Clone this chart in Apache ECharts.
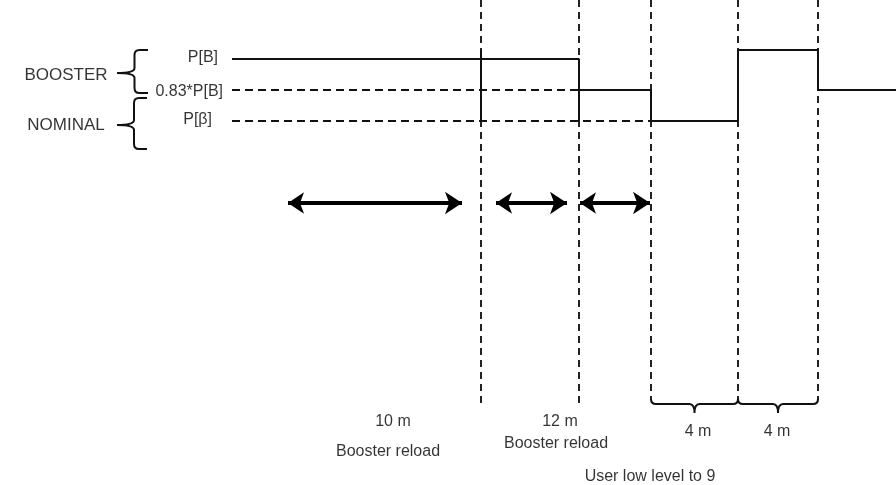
<!DOCTYPE html>
<html>
<head>
<meta charset="utf-8">
<script src="https://cdn.jsdelivr.net/npm/echarts@6/dist/echarts.min.js"></script>
<style>
  html, body { margin: 0; padding: 0; background: #fff; }
  #main { width: 896px; height: 485px; }
</style>
</head>
<body>
<div id="main"></div>
<script>
// diagram units: x = time position, y = level position (top down)
var stepLine = [[232, 59], [579, 59], [579, 90], [651, 90], [651, 121], [738, 121], [738, 50], [818, 50], [818, 90], [896, 90]];
var solidDrops = [[[481, 50], [481, 121]], [[579, 59], [579, 121]]];
var refLines = [[[232, 90], [579, 90]], [[232, 121], [651, 121]]];
var markerX = [481, 579, 651, 738, 818];
var markerEnd = [405, 405, 400, 400, 400];
var arrowSpans = [[288, 462], [496, 567], [580, 650]];
var arrowY = 203;
// [end x, top, bottom, tip x, tip y]
var leftBraces = [[148, 50, 93, 117, 73], [147, 98, 149, 117, 125]];
// [x0, x1, end y, tip y]
var bottomBraces = [[651, 738, 399, 413], [738, 818, 399, 413]];
// [text, x, y, align, size]
var textLabels = [
  ['BOOSTER', 66, 75, 'center', 17],
  ['NOMINAL', 66, 125, 'center', 17],
  ['P[B]', 218, 58, 'right', 16],
  ['0.83*P[B]', 223, 92, 'right', 16],
  ['P[β]', 212, 120, 'right', 16],
  ['10 m', 393, 422, 'center', 16],
  ['Booster reload', 388, 452, 'center', 16],
  ['12 m', 560, 422, 'center', 16],
  ['Booster reload', 556, 444, 'center', 16],
  ['4 m', 698, 432, 'center', 16],
  ['4 m', 777, 432, 'center', 16],
  ['User low level to 9', 650, 477, 'center', 16]
];

var myChart = echarts.init(document.getElementById('main'));

var markerLines = markerX.map(function (x, i) {
  return { coords: [[x, 0], [x, markerEnd[i]]] };
});
var arrowLines = arrowSpans.map(function (s) {
  return { coords: [[s[0], arrowY], [s[1], arrowY]] };
});

function renderLeftBrace(params, api) {
  var endX = api.value(0), top = api.value(1), bot = api.value(2), tipX = api.value(3), tipY = api.value(4);
  var a = api.coord([endX, top]), b = api.coord([endX, bot]), t = api.coord([tipX, tipY]);
  var stem = api.coord([(endX + tipX) / 2 + 2, 0])[0];
  var r = 5;
  var d = 'M' + a[0] + ' ' + a[1] +
    ' L' + (stem + r) + ' ' + a[1] +
    ' Q' + stem + ' ' + a[1] + ' ' + stem + ' ' + (a[1] + r) +
    ' L' + stem + ' ' + (t[1] - r) +
    ' Q' + stem + ' ' + t[1] + ' ' + t[0] + ' ' + t[1] +
    ' M' + t[0] + ' ' + t[1] +
    ' Q' + stem + ' ' + t[1] + ' ' + stem + ' ' + (t[1] + r) +
    ' L' + stem + ' ' + (b[1] - r) +
    ' Q' + stem + ' ' + b[1] + ' ' + (stem + r) + ' ' + b[1] +
    ' L' + b[0] + ' ' + b[1];
  return {
    type: 'path',
    shape: { pathData: d },
    style: { fill: null, stroke: '#111', lineWidth: 2 }
  };
}

function renderBottomBrace(params, api) {
  var x0 = api.value(0), x1 = api.value(1), endY = api.value(2), tipY = api.value(3);
  var p0 = api.coord([x0, endY]), p1 = api.coord([x1, endY]), t = api.coord([(x0 + x1) / 2, tipY]);
  var ys = api.coord([0, (endY + tipY) / 2 - 2])[1];
  var r = 5;
  var d = 'M' + p0[0] + ' ' + p0[1] +
    ' Q' + p0[0] + ' ' + ys + ' ' + (p0[0] + r) + ' ' + ys +
    ' L' + (t[0] - r) + ' ' + ys +
    ' Q' + t[0] + ' ' + ys + ' ' + t[0] + ' ' + t[1] +
    ' Q' + t[0] + ' ' + ys + ' ' + (t[0] + r) + ' ' + ys +
    ' L' + (p1[0] - r) + ' ' + ys +
    ' Q' + p1[0] + ' ' + ys + ' ' + p1[0] + ' ' + p1[1];
  return {
    type: 'path',
    shape: { pathData: d },
    style: { fill: null, stroke: '#111', lineWidth: 2 }
  };
}

var option = {
  backgroundColor: '#fff',
  animation: false,
  grid: { left: 0, right: 0, top: 0, bottom: 0 },
  xAxis: { type: 'value', min: 0, max: 896, show: false },
  yAxis: { type: 'value', min: 0, max: 485, inverse: true, show: false },
  series: [
    {
      name: 'markers',
      type: 'lines',
      coordinateSystem: 'cartesian2d',
      symbol: 'none',
      lineStyle: { color: '#222', width: 2, type: [7, 5], opacity: 1 },
      data: markerLines,
      silent: true
    },
    {
      name: 'ref',
      type: 'lines',
      coordinateSystem: 'cartesian2d',
      symbol: 'none',
      lineStyle: { color: '#111', width: 2, type: [8, 5], opacity: 1 },
      data: refLines.map(function (c) { return { coords: c }; }),
      silent: true
    },
    {
      name: 'drops',
      type: 'lines',
      coordinateSystem: 'cartesian2d',
      symbol: 'none',
      lineStyle: { color: '#111', width: 2, type: 'solid', opacity: 1 },
      data: solidDrops.map(function (c) { return { coords: c }; }),
      silent: true
    },
    {
      name: 'power',
      type: 'line',
      data: stepLine,
      showSymbol: false,
      lineStyle: { color: '#111', width: 2 },
      silent: true
    },
    {
      name: 'arrows',
      type: 'lines',
      coordinateSystem: 'cartesian2d',
      symbol: ['arrow', 'arrow'],
      symbolSize: [16, 17],
      lineStyle: { color: '#000', width: 4, type: 'solid', opacity: 1 },
      itemStyle: { color: '#000' },
      data: arrowLines,
      silent: true
    },
    {
      name: 'leftBraces',
      type: 'custom',
      renderItem: renderLeftBrace,
      data: leftBraces,
      silent: true
    },
    {
      name: 'bottomBraces',
      type: 'custom',
      renderItem: renderBottomBrace,
      data: bottomBraces,
      silent: true
    },
    {
      name: 'labels',
      type: 'scatter',
      symbolSize: 0,
      silent: true,
      data: textLabels.map(function (t) {
        return {
          value: [t[1], t[2]],
          label: {
            show: true,
            position: 'inside',
            formatter: t[0],
            align: t[3],
            verticalAlign: 'middle',
            color: '#000',
            fontFamily: 'Liberation Sans',
            fontSize: t[4]
          }
        };
      })
    }
  ]
};

myChart.setOption(option);
</script>
</body>
</html>
